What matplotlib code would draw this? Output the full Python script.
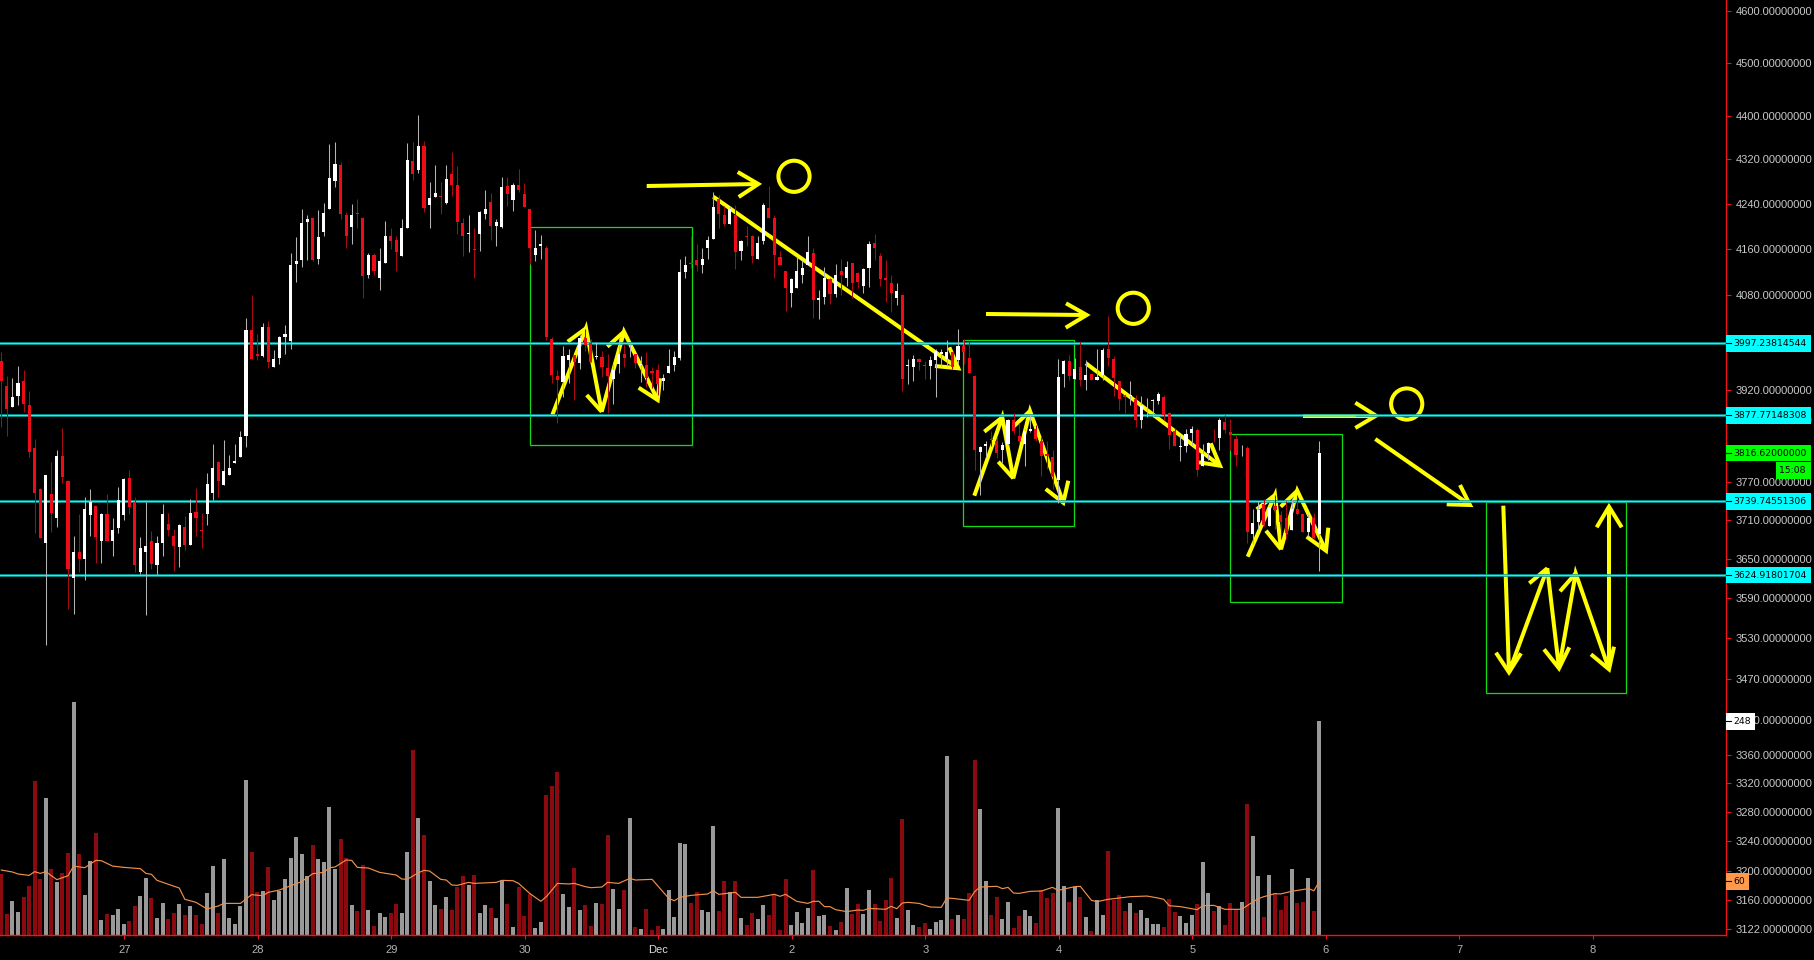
import matplotlib
matplotlib.use("Agg")
import matplotlib.pyplot as plt
from matplotlib.patches import Rectangle, Circle
from matplotlib.ticker import NullLocator
import numpy as np

plt.rcParams['font.family'] = ['Liberation Sans', 'DejaVu Sans']

opens = [3968,3926,3891,3910,3934,3895,3824,3759,3675,3751,
3713,3811,3772,3621,3660,3649,3718,3732,3678,3719,
3678,3697,3718,3776,3738,3630,3660,3678,3640,3675,
3704,3686,3668,3700,3671,3722,3694,3719,3753,3802,
3765,3782,3800,3810,3844,4020,3979,3976,4025,3957,
3972,4008,4001,4133,4140,4208,4215,4142,4190,4231,
4281,4310,4219,4199,4223,4215,4114,4150,4110,4136,
4183,4176,4148,4197,4317,4301,4345,4238,4252,4253,
4242,4294,4274,4206,4187,4159,4187,4222,4243,4200,
4199,4272,4247,4274,4258,4231,4150,4165,4162,4005,
3943,3933,3970,3978,3964,4006,3998,3974,3974,3956,
3938,3963,3980,3984,3980,3961,3961,3951,3953,3935,
3948,3961,3973,4119,4135,4140,4131,4161,4178,4249,
4220,4204,4220,4157,4182,4183,4142,4174,4233,4215,
4145,4121,4083,4091,4114,4131,4152,4072,4077,4107,
4081,4121,4109,4135,4117,4095,4126,4171,4148,4110,
4100,4075,4079,3959,3957,3971,3960,3959,3970,3980,
3971,3982,3970,3993,3973,3943,3819,3828,3839,3836,
3821,3831,3870,3844,3831,3853,3855,3836,3815,3810,
3774,3946,3968,3938,3958,3936,3946,3936,3945,3988,
3971,3934,3911,3910,3904,3870,3891,3901,3901,3908,
3882,3852,3827,3828,3849,3854,3796,3816,3843,3841,
3867,3851,3839,3821,3825,3688,3707,3735,3701,3733,
3718,3713,3694,3727,3719,3691,3713,3688]

highs = [3983,3943,3939,3959,3952,3918,3839,3760,3782,3802,
3821,3857,3773,3685,3719,3747,3759,3733,3721,3751,
3713,3762,3776,3790,3746,3683,3739,3693,3686,3735,
3721,3696,3704,3716,3743,3760,3721,3785,3831,3803,
3837,3814,3831,3852,4040,4079,4013,4032,4035,3986,
4009,4028,4152,4180,4231,4220,4217,4229,4242,4348,
4352,4316,4226,4240,4249,4217,4152,4152,4162,4209,
4197,4182,4213,4350,4352,4402,4354,4279,4310,4279,
4310,4334,4308,4215,4219,4197,4227,4265,4259,4213,
4288,4288,4277,4303,4277,4231,4194,4185,4165,4008,
3953,3993,3988,3978,4012,4022,4005,4000,3985,3980,
3963,4006,3996,3996,3980,3976,3982,3957,3963,3946,
3988,3985,4142,4147,4182,4168,4161,4182,4261,4256,
4236,4236,4238,4176,4200,4185,4183,4242,4272,4219,
4157,4121,4109,4145,4140,4183,4161,4089,4129,4109,
4133,4142,4138,4136,4119,4126,4173,4187,4152,4140,
4114,4101,4081,3971,3978,3973,3968,3976,3988,3988,
4003,3983,4022,4005,4000,3945,3828,3836,3852,3842,
3834,3871,3881,3866,3855,3878,3862,3842,3836,3821,
3971,3970,3978,3973,4002,3970,3946,3988,3990,4043,
3976,3934,3911,3934,3911,3909,3906,3904,3916,3911,
3883,3857,3846,3856,3860,3857,3831,3835,3856,3873,
3878,3872,3846,3830,3828,3727,3740,3743,3733,3750,
3724,3740,3745,3750,3719,3719,3721,3836]

lows = [3858,3844,3891,3895,3883,3810,3690,3682,3520,3691,
3699,3769,3574,3566,3630,3617,3685,3644,3644,3677,
3655,3690,3710,3719,3630,3626,3565,3635,3627,3654,
3686,3632,3638,3663,3671,3686,3666,3702,3741,3746,
3765,3781,3800,3810,3826,3971,3969,3974,3956,3957,
3962,3979,3988,4103,4128,4140,4138,4133,4182,4231,
4270,4213,4161,4169,4196,4075,4109,4114,4088,4136,
4159,4122,4148,4197,4283,4296,4226,4197,4252,4222,
4240,4254,4187,4147,4154,4109,4157,4213,4176,4165,
4196,4236,4227,4261,4234,4133,4138,4142,4003,3931,
3866,3908,3931,3903,3954,3985,3966,3971,3941,3881,
3897,3947,3957,3974,3956,3933,3924,3922,3912,3920,
3948,3951,3970,4109,4126,4121,4117,4142,4178,4197,
4200,4203,4124,4140,4165,4135,4142,4168,4215,4110,
4131,4052,4059,4091,4101,4131,4041,4038,4065,4065,
4077,4079,4096,4074,4091,4083,4093,4140,4096,4067,
4050,4062,3917,3929,3935,3953,3938,3938,3908,3960,
3960,3955,3963,3963,3947,3789,3749,3810,3828,3808,
3800,3829,3847,3832,3796,3850,3836,3780,3791,3759,
3737,3924,3936,3938,3926,3919,3936,3936,3936,3960,
3910,3886,3881,3895,3859,3857,3875,3875,3896,3870,
3823,3828,3804,3818,3830,3779,3796,3806,3835,3822,
3849,3822,3795,3811,3674,3673,3696,3701,3701,3696,
3680,3680,3694,3718,3691,3686,3680,3631]

closes = [3934,3888,3908,3931,3896,3819,3752,3682,3781,3721,
3811,3778,3635,3661,3649,3727,3738,3683,3719,3678,
3694,3741,3775,3730,3640,3666,3669,3642,3674,3719,
3694,3669,3702,3672,3721,3713,3693,3767,3793,3772,
3787,3793,3803,3842,4020,3971,3976,4025,3966,3971,
4008,4013,4131,4138,4206,4212,4140,4180,4224,4286,
4312,4222,4183,4219,4222,4112,4150,4121,4138,4183,
4174,4154,4197,4319,4294,4345,4233,4251,4259,4252,
4284,4274,4208,4183,4188,4158,4226,4231,4200,4208,
4270,4258,4274,4265,4234,4161,4162,4168,4008,3945,
3936,3976,3978,3966,4006,3995,3966,3976,3957,3943,
3953,3980,3973,3985,3964,3962,3940,3948,3929,3940,
3959,3974,4119,4131,4133,4131,4142,4176,4234,4222,
4204,4231,4154,4173,4181,4147,4171,4238,4215,4150,
4131,4091,4107,4122,4126,4155,4072,4075,4110,4081,
4115,4115,4129,4101,4103,4124,4168,4161,4107,4105,
4083,4086,3938,3960,3971,3966,3959,3970,3985,3982,
3982,3957,3993,3982,3948,3821,3826,3831,3837,3816,
3829,3870,3852,3836,3852,3855,3839,3811,3811,3778,
3941,3968,3943,3955,3936,3945,3936,3941,3986,3973,
3939,3904,3908,3911,3870,3895,3892,3903,3913,3878,
3846,3828,3828,3847,3856,3790,3815,3833,3842,3870,
3854,3846,3814,3822,3691,3705,3726,3702,3730,3726,
3707,3690,3727,3719,3691,3713,3682,3816.62]

volumes = [70.8,24.4,39.4,26.7,44.1,56.8,178.7,65,158.9,76.6,
61.5,71.9,95.1,270.3,94,46.4,85.8,118.3,17.4,24.4,
23.2,30.2,12.8,16.2,33.6,45.2,66.1,42.9,19.7,37.1,
18.6,25.5,36,23.2,33.6,23.2,12.8,48.7,80,25.5,
88.2,19.7,12.8,33.6,179.8,96.3,49.9,51,78.9,40.6,
51,65,89.3,113.7,94,68.4,104.4,88.2,84.7,148.5,
76.6,111.4,89.3,34.8,27.8,81.2,29,10.4,25.5,20.9,
25.5,36,25.5,96.3,214.6,135.7,116,62.6,34.8,30.2,
44.1,29,55.7,68.4,58,69.6,25.5,34.8,31.3,19.7,
62.6,36,9.3,55.7,22,47.6,8.1,15.1,162.4,172.9,
189.1,47.6,32.5,77.7,29,34.8,10.4,37.1,36,116,
53.4,30.2,52.2,135.7,9.3,7,30.2,5.8,10.4,7,
52.2,20.9,106.7,105.6,37.1,49.9,29,26.7,126.5,27.8,
62.6,49.9,62.6,19.7,11.6,25.5,18.6,34.8,23.2,46.4,
5.8,65,11.6,26.7,13.9,31.3,75.4,22,23.2,10.4,
5.8,15.1,54.5,24.4,36,24.4,52.2,36,16.2,40.6,
66.1,19.7,134.6,29,11.6,9.3,13.9,7,15.1,17.4,
207.7,18.6,23.2,18.6,48.7,203,146.2,62.6,23.2,44.1,
18.6,38.3,8.1,22,29,22,13.9,52.2,42.9,48.7,
147.3,56.8,38.3,55.7,44.1,20.9,4.6,40.6,23.2,97.4,
40.6,46.4,27.8,37.1,25.5,29,19.7,12.8,12.8,9.3,
41.8,26.7,22,13.9,23.2,36,84.7,48.7,27.8,33.6,
11.6,37.1,30.2,38.3,152,114.8,68.4,20.9,69.6,48.7,
29,45.2,76.6,37.1,38.3,66.1,27.8,248]

ma_hours = [0,2,3,5,6,7,8,10,12,13,15,17,18,20,22,25,26,27,28,32,33,35,37,39,40,43,45,47,48,50,
54,56,58,59,60,62,63,64,66,68,71,72,73,75,76,77,79,80,81,82,84,85,89,90,92,93,95,97,98,100,
102,103,105,106,108,109,111,113,114,117,120,121,122,124,127,128,129,132,133,136,139,140,141,143,145,146,147,148,149,150,
152,154,155,156,159,160,161,162,163,165,167,169,170,171,174,175,176,179,180,181,182,183,185,187,189,190,193,194,196,197,
199,203,206,208,209,210,212,215,216,218,220,223,225,226,227,229,230,232,235,236,237]
ma_values = [75.4,73.1,70.8,69.2,73.5,71.5,73.5,64.2,68.8,80,78.1,86.6,86.2,80,78.5,77,71.5,70.4,63.4,54.5,41.4,37.9,30.2,33.6,36.7,36.7,46.8,45.6,49.5,52.2,
61.9,71.2,72.7,78.1,78.9,87,86.6,78.5,77.7,72.7,69.6,65,64.6,72.3,75,74.2,64.6,63.8,58,57.6,61.1,59.9,61.1,63.4,63,59.9,48.3,39.1,44.5,59.9,
59.2,59.9,56.1,54.9,55.7,61.1,59.9,65.7,63.8,64.6,42.5,39.8,43.7,46,47.6,51.4,47.2,49.5,43.7,43.7,47.2,44.9,47.2,39.1,36.7,39.1,39.1,32.9,32.9,29.4,
27.1,29,28.6,30.9,29.8,33.3,30.5,37.1,37.9,36.7,32.5,32.1,42.9,42.5,40.2,50.3,55.7,56.5,53.8,55.3,48.7,48.3,50.7,51,55.3,51.8,56.1,56.5,40.2,38.7,
41.4,44.5,45.2,42.9,41.4,34,32.9,29.4,34,34.4,29.8,29.8,38.3,42.1,44.5,48,47.6,50.7,53.8,51.4,62.3]

levels = [3997.23814544, 3877.77148308, 3739.74551306, 3624.91801704]
level_labels = ['3997.23814544', '3877.77148308', '3739.74551306', '3624.91801704']
last_price = 3816.62
last_label = '3816.62000000'
countdown = '15:08'
vol_last_label = '248'
ma_last_label = '60'

price_ticks = [4600,4500,4400,4320,4240,4160,4080,3920,3870,3770,3710,3650,3590,3530,3470,3410,
               3360,3320,3280,3240,3200,3160,3122]
day_labels = ['27','28','29','30','Dec','2','3','4','5','6','7','8']

BG = '#000000'
UP = '#ffffff'; DOWN = '#ee0d16'
UP_WICK = '#b4b4b4'; DOWN_WICK = '#a80a12'
VOL_UP = '#999999'; VOL_DOWN = '#8b0a10'
MA = '#f0904a'; RED = '#f01414'; GREEN = '#12dc12'; YEL = '#ffff00'

W, H = 1814, 960
fig = plt.figure(figsize=(W/100, H/100), dpi=100, facecolor=BG)
axpos = [0, (H-935)/H, 1726/W, 935/H]

opens, highs, lows, closes, volumes = map(np.array, (opens, highs, lows, closes, volumes))
idx = np.arange(len(opens))
up = closes >= opens
xlim = (-0.234, 310.09)

# volume pane
vax = fig.add_axes(axpos, zorder=1, facecolor=BG)
vax.set_xlim(*xlim); vax.set_ylim(0, 935/0.8617)
vax.bar(idx, volumes, width=0.72, color=np.where(up, VOL_UP, VOL_DOWN), linewidth=0)
vax.plot(ma_hours, ma_values, color=MA, lw=0.85, solid_joinstyle='round')
vax.axis('off')

# hand-drawn annotations, in figure pixels, below the price marks
an = fig.add_axes([0, 0, 1, 1], zorder=1.5, facecolor='none')
an.set_xlim(0, W); an.set_ylim(H, 0); an.axis('off')

boxes = [(529.7, 227.3, 691.7, 445.3), (963.3, 340, 1074.3, 525.7),
         (1230.3, 434.3, 1342.3, 601.6), (1486.3, 502, 1625.7, 693.3)]
for x0, y0, x1, y1 in boxes:
    an.add_patch(Rectangle((x0, y0), x1-x0, y1-y0, fill=False, edgecolor=GREEN, lw=0.9, zorder=7))

strokes = [
    [(646.7,186),(758.3,184)], [(737.7,172),(758.3,184),(738.7,197)],
    [(713.3,196.7),(958.3,368.3)], [(949.3,347.3),(958.3,368.3),(935,366)],
    [(552.3,415),(586,328.3),(601.7,411.7),(624,331.7),(657.7,400)],
    [(567.7,341.7),(586,328.3)], [(586.7,395),(601.7,411.7)], [(607.3,346.7),(624,331.7)],
    [(638.7,387.7),(657.7,400),(660,378.3)],
    [(986,314),(1086.7,315)], [(1066,303.3),(1086.7,315),(1065.7,327.7)],
    [(1086,363.3),(1220,465.7)], [(1210.7,443.3),(1220,465.7),(1199,462.3)],
    [(974.3,495.7),(1002.3,417.3),(1013.3,478.3),(1030,411),(1063.3,502.7)],
    [(984.3,431.7),(1002.3,417.3)], [(998.3,461.7),(1013.3,478.3)], [(1013.3,426.7),(1030,411)],
    [(1045.7,489),(1063.3,502.7),(1068.3,480.7)],
    [(1247.7,556.7),(1275,495),(1281,549.3),(1297.3,490.7),(1326,550.7)],
    [(1256.7,509.3),(1275,495)], [(1266,530.7),(1281,549.3)], [(1280.7,506.7),(1297.3,490.7)],
    [(1306.7,536.7),(1326,550.7),(1328.3,527.7)],
    [(1303.3,415.7),(1376,415.7)], [(1355.3,402.7),(1376,415.7),(1355.3,428)],
    [(1375.3,439),(1470,505)], [(1460,485),(1470,505),(1446.7,504.3)],
    [(1503.3,505.7),(1509,672.3),(1547.3,568.3),(1559,668.3),(1575.7,573.3),(1609,669.3),(1609,506.7)],
    [(1496,652.7),(1509,672.3),(1521,653.3)], [(1529.3,583.3),(1547.3,568.3)],
    [(1544,649.3),(1559,668.3),(1569.3,647.3)], [(1560,591.3),(1575.7,573.3)],
    [(1591,654.3),(1609,669.3),(1614,646.7)], [(1596.7,527.3),(1609,506.7),(1621.7,527.3)],
]
for s in strokes:
    xs, ys = zip(*s)
    an.plot(xs, ys, color=YEL, lw=2.9, solid_capstyle='butt', solid_joinstyle='miter', zorder=8)
for cx, cy in [(794, 176.3), (1133.3, 308.3), (1406.7, 404)]:
    an.add_patch(Circle((cx, cy), 15.6, fill=False, edgecolor=YEL, lw=2.9, zorder=8))

# price pane (log scale): levels, then candles on top of the drawings
ax = fig.add_axes(axpos, zorder=2, facecolor='none')
ax.set_xlim(*xlim)
ax.set_yscale('log')
ax.set_ylim(3114.2, 4620.6)
for lv in levels:
    ax.axhline(lv, color='#0a9c9c', lw=1.9, zorder=1)
    ax.axhline(lv, color='#00ffff', lw=0.8, zorder=1.1)
ax.vlines(idx, lows, highs, colors=np.where(up, UP_WICK, DOWN_WICK), lw=0.75, zorder=2)
ax.bar(idx, np.maximum(np.abs(closes-opens), 1.2), bottom=np.minimum(opens, closes), width=0.56,
       color=np.where(up, UP, DOWN), linewidth=0, zorder=3)

for s in ('top', 'left'):
    ax.spines[s].set_visible(False)
for s in ('right', 'bottom'):
    ax.spines[s].set_color(RED); ax.spines[s].set_linewidth(1.0)
ax.yaxis.tick_right()
ax.set_yticks(price_ticks)
ax.set_yticklabels([f'{t:.8f}' for t in price_ticks])
ax.yaxis.set_minor_locator(NullLocator())
ax.tick_params(axis='y', colors=RED, labelcolor='#c8c8c8', length=3.5, width=0.8, pad=3.5, labelsize=8)
day_pos = [22.15 + 24*k for k in range(len(day_labels))]
ax.set_xticks(day_pos)
ax.set_xticklabels(day_labels)
ax.tick_params(axis='x', colors=RED, labelcolor='#b4b4b4', length=3, width=0.8, pad=4.5, labelsize=8)
for t, lab in zip(ax.get_xticklabels(), day_labels):
    if lab == 'Dec':
        t.set_color('#dcdcdc')

# value badges on the right scale, in figure pixels
ov = fig.add_axes([0, 0, 1, 1], zorder=3, facecolor='none')
ov.set_xlim(0, W); ov.set_ylim(H, 0); ov.axis('off')

def ypx(axis, value):
    return H - axis.transData.transform((0, value))[1]

def badge(y, x1, text, color, tc='#000000'):
    ov.add_patch(Rectangle((1726, y-8.3), x1-1726, 16.6, facecolor=color, edgecolor='none', zorder=5))
    ov.plot([1726, 1731], [y, y], color='#000000', lw=0.8, zorder=6)
    ov.text(1733, y, text, color=tc, fontsize=6.7, family=['DejaVu Sans'], va='center', ha='left', zorder=6)

for lv, lab in zip(levels, level_labels):
    badge(ypx(ax, lv), 1811, lab, '#00ffff')
y_last = ypx(ax, last_price)
badge(y_last, 1811, last_label, '#00ff00')
ov.add_patch(Rectangle((1776, y_last+9.4), 35, 16.6, facecolor='#00ff00', edgecolor='none', zorder=5))
ov.text(1779, y_last+17.7, countdown, color='#000000', fontsize=6.7, family=['DejaVu Sans'], va='center', ha='left', zorder=6)
badge(ypx(vax, volumes[-1]), 1755, vol_last_label, '#ffffff')
badge(ypx(vax, ma_values[-1]), 1749, ma_last_label, '#ff9a4d')

# the third arrow shaft takes a green tint where it meets the 3877 level
ov.plot([1303.3, 1356], [415.7, 415.7], color='#a0f050', lw=1.1, solid_capstyle='butt', zorder=4)

fig.savefig('out.png', dpi=100, facecolor=BG)
